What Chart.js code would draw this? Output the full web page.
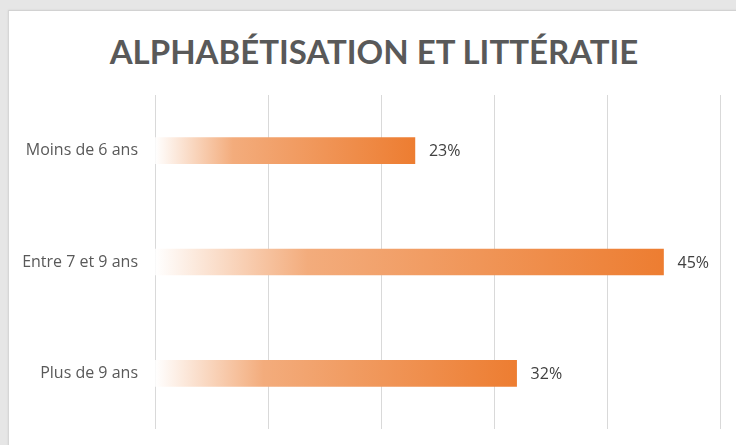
<!DOCTYPE html>
<html>
<head>
<meta charset="utf-8">
<script src="https://cdn.jsdelivr.net/npm/chart.js@4/dist/chart.umd.min.js"></script>
<style>
  html, body { margin: 0; padding: 0; }
  body { width: 736px; height: 445px; background: #e6e6e6; position: relative; overflow: hidden; }
  #card { position: absolute; left: 8px; top: 10px; width: 740px; height: 450px; background: #ffffff;
          border-top: 1px solid #d2d2d2; border-left: 1px solid #d6d6d6; box-shadow: 0 0 2px rgba(0,0,0,0.08); }
  #title { position: absolute; left: 0; top: 31px; width: 748px; text-align: center;
           font-family: Lato, sans-serif; font-weight: bold; font-size: 33px; line-height: 40px;
           color: #595959; white-space: nowrap; }
  #wrap { position: absolute; left: 0; top: 0; width: 736px; height: 445px; }
</style>
</head>
<body>
<div id="card"></div>
<div id="title"></div>
<div id="wrap"><canvas id="c" width="736" height="445"></canvas></div>
<script>
const categories = ["Moins de 6 ans", "Entre 7 et 9 ans", "Plus de 9 ans"];
const values = [23, 45, 32];
const chartTitle = "ALPHABÉTISATION ET LITTÉRATIE";
const axisMax = 50;
const axisStep = 10;

document.getElementById('title').textContent = chartTitle;

const labelPlugin = {
  id: 'barLabels',
  afterDatasetsDraw(chart) {
    const { ctx } = chart;
    const meta = chart.getDatasetMeta(0);
    ctx.save();
    ctx.font = '16px "Open Sans"';
    ctx.fillStyle = '#404040';
    ctx.textAlign = 'left';
    ctx.textBaseline = 'middle';
    meta.data.forEach((bar, i) => {
      ctx.fillText(values[i] + '%', bar.x + 14, bar.y + 1);
    });
    ctx.restore();
  }
};

new Chart(document.getElementById('c'), {
  type: 'bar',
  data: {
    labels: categories,
    datasets: [{
      data: values,
      barThickness: 26,
      borderWidth: 0,
      backgroundColor: (c) => {
        const chart = c.chart;
        const { ctx, chartArea, scales } = chart;
        if (!chartArea || c.type !== 'data' || !scales.x) return '#ED7D31';
        const x0 = scales.x.getPixelForValue(0);
        const x1 = scales.x.getPixelForValue(c.raw);
        const g = ctx.createLinearGradient(x0, 0, x1, 0);
        g.addColorStop(0, '#FFFFFF');
        g.addColorStop(0.3, '#F3AC7C');
        g.addColorStop(1, '#ED7D31');
        return g;
      }
    }]
  },
  options: {
    indexAxis: 'y',
    responsive: false,
    animation: false,
    layout: { padding: { left: 0, right: 16, top: 95, bottom: 16 } },
    plugins: {
      legend: { display: false },
      tooltip: { enabled: false },
      title: { display: false }
    },
    scales: {
      x: {
        min: 0, max: axisMax,
        ticks: { display: false, stepSize: axisStep },
        grid: { color: '#d9d9d9', lineWidth: 1, drawTicks: false },
        border: { display: false }
      },
      y: {
        ticks: { color: '#595959', font: { family: 'Open Sans', size: 16 }, padding: 17 },
        grid: { display: false, drawTicks: false },
        border: { display: false },
        afterFit: (axis) => { axis.width = 155; axis.paddingTop = 0; axis.paddingBottom = 0; }
      }
    }
  },
  plugins: [labelPlugin]
});
</script>
</body>
</html>
